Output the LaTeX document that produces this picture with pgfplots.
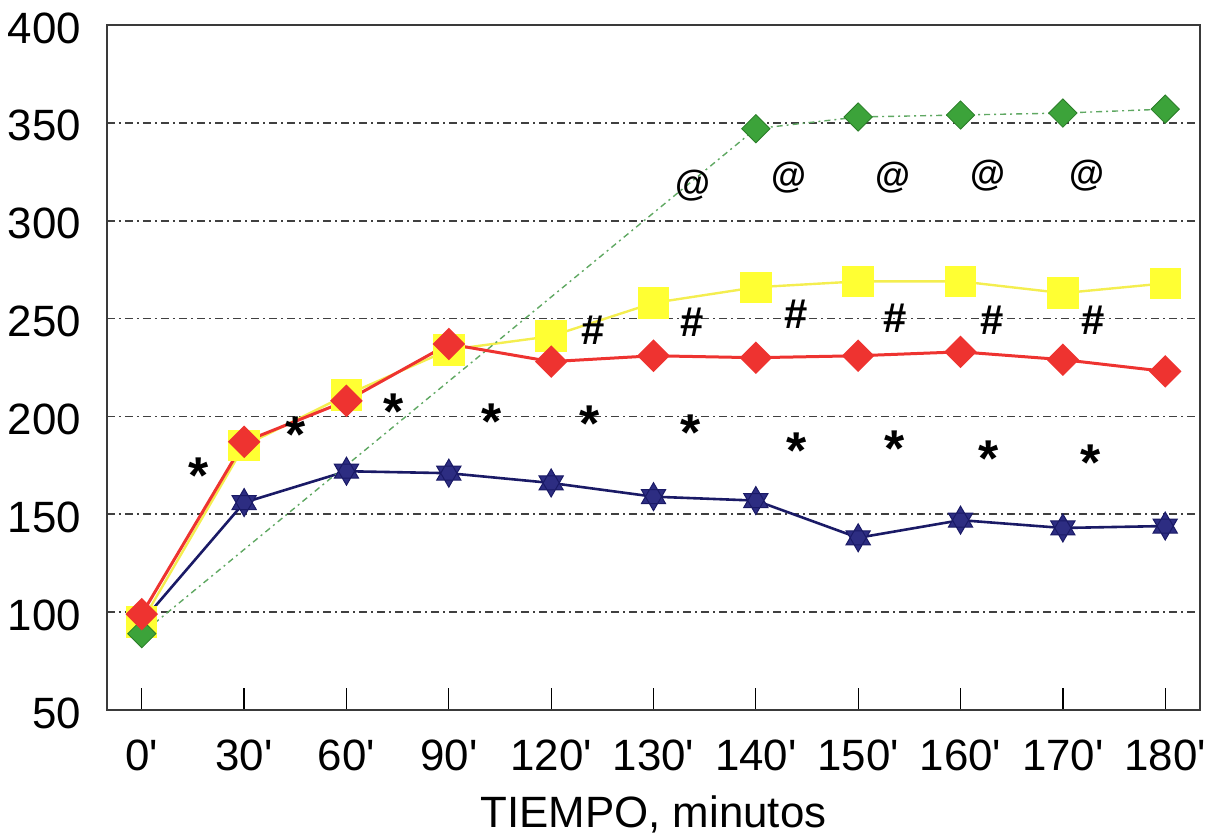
\documentclass[border=0pt]{standalone}
\usepackage{pgfplots}
\pgfplotsset{compat=1.18}
\usepackage{fontspec}
\newfontfamily\arial{Liberation Sans}
\definecolor{navyline}{HTML}{1A1A66}
\definecolor{navyfill}{HTML}{2D2D82}
\definecolor{redc}{HTML}{EE3330}
\definecolor{yellowc}{HTML}{FFFF33}
\definecolor{yellowl}{HTML}{F4EE50}
\definecolor{greenf}{HTML}{3CA33A}
\definecolor{greend}{HTML}{2A7D28}
\definecolor{greenl}{HTML}{5FA862}
\definecolor{gridc}{HTML}{404040}
\definecolor{framec}{HTML}{3A3A3A}
\pgfdeclareplotmark{sixstar}{%
  \pgfpathmoveto{\pgfpointpolar{90}{\pgfplotmarksize}}%
  \pgfpathlineto{\pgfpointpolar{210}{\pgfplotmarksize}}%
  \pgfpathlineto{\pgfpointpolar{330}{\pgfplotmarksize}}%
  \pgfpathclose
  \pgfpathmoveto{\pgfpointpolar{270}{\pgfplotmarksize}}%
  \pgfpathlineto{\pgfpointpolar{30}{\pgfplotmarksize}}%
  \pgfpathlineto{\pgfpointpolar{150}{\pgfplotmarksize}}%
  \pgfpathclose
  \pgfusepathqfillstroke
}
\begin{document}
\begin{tikzpicture}[font=\arial]
\path[use as bounding box] (-107bp,-125bp) rectangle (1106bp,710bp);
\begin{axis}[
  at={(0,0)}, anchor=south west, scale only axis,
  width=1093bp, height=685bp,
  xmin=-0.34, xmax=10.34, ymin=50, ymax=400,
  xtick={0,...,10},
  xticklabels={0',30',60',90',120',130',140',150',160',170',180'},
  ytick={50,100,...,400},
  /pgf/number format/assume math mode=true,
  tick label style={font=\arial\fontsize{44}{48}\selectfont},
  xticklabel style={inner sep=0pt, anchor=north, yshift=-30bp},
  yticklabel style={inner sep=0pt, anchor=east, xshift=-26bp, yshift=-3bp},
  tick align=inside,
  major tick length=22bp,
  xtick pos=bottom,
  ytick pos=left,
  xtick style={draw=black, line width=1.3bp},
  ytick style={draw=none},
  ymajorgrids,
  grid style={draw=gridc, line width=1.6bp, dash pattern=on 8bp off 4bp on 2bp off 4bp},
  axis line style={draw=framec, line width=1.8bp},
  xlabel={TIEMPO, minutos},
  xlabel style={font=\arial\fontsize{44}{48}\selectfont, at={(axis description cs:0.5,0)}, anchor=north, inner sep=0pt, yshift=-86bp},
]
% blue
\addplot[color=navyline, line width=2.6bp, mark=sixstar, mark size=14bp,
  mark options={solid, draw=navyline, fill=navyfill, line width=1bp}]
  coordinates {(0,95) (1,156) (2,172) (3,171) (4,166) (5,159) (6,157) (7,138) (8,147) (9,143) (10,144)};
% yellow
\addplot[color=yellowl, line width=2.4bp, mark=square*, mark size=14.5bp,
  mark options={solid, draw=yellowc, fill=yellowc}]
  coordinates {(0,95) (1,185) (2,211) (3,234) (4,241) (5,258) (6,266) (7,269) (8,269) (9,263) (10,268)};
% green
\addplot[color=greenl, line width=1.4bp, dash pattern=on 6bp off 4bp on 2bp off 4bp,
  mark=square*, mark size=10bp,
  mark options={solid, rotate=45, draw=greend, fill=greenf, line width=0.8bp}]
  coordinates {(0,89) (6,347) (7,353) (8,354) (9,355) (10,357)};
% red
\addplot[color=redc, line width=3bp, mark=square*, mark size=10bp,
  mark options={solid, rotate=45, draw=redc, fill=redc}]
  coordinates {(0,99) (1,187) (2,208) (3,237) (4,228) (5,231) (6,230) (7,231) (8,233) (9,229) (10,223)};
% annotations
\addplot[only marks, mark=text, text mark={*}, text mark as node=true,
  text mark style={font=\arial\bfseries\fontsize{52}{56}\selectfont, inner sep=0pt}]
  coordinates {(0.55,169.5) (1.5,190.5) (2.46,202.5) (3.42,197.5) (4.38,196.5) (5.36,191.5) (6.4,182.5) (7.36,183.5) (8.27,178.5) (9.27,176.5)};
\addplot[only marks, mark=text, text mark={\#}, text mark as node=true,
  text mark style={font=\arial\bfseries\fontsize{42}{46}\selectfont, inner sep=0pt}]
  coordinates {(4.41,244) (5.38,248) (6.39,252) (7.36,250) (8.31,249) (9.3,249)};
\addplot[only marks, mark=text, text mark={@}, text mark as node=true,
  text mark style={font=\arial\bfseries\fontsize{36}{40}\selectfont, inner sep=0pt}]
  coordinates {(5.39,318) (6.32,322) (7.34,322) (8.27,323) (9.24,323)};
\end{axis}
\end{tikzpicture}
\end{document}
